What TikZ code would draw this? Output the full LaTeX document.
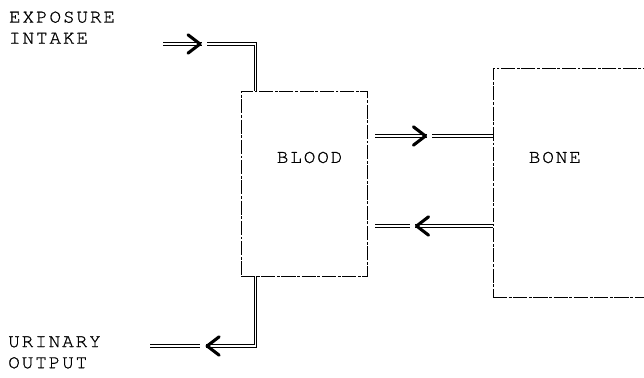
\documentclass[tikz,border=0pt]{standalone}
\usepackage{fontspec}
\newfontfamily\typefont[LetterSpace=10, FakeBold=0.9]{texgyrecursor-regular.otf}
\usepackage{tikz}
\usetikzlibrary{arrows.meta, decorations.markings, positioning}

\begin{document}
\begin{tikzpicture}[
    box/.style={draw, line width=0.6pt, dash pattern=on 10pt off 1.2pt on 2pt off 1.2pt, inner sep=0pt},
    tag/.style={font=\typefont\fontsize{13.7}{15}\selectfont, inner sep=0pt, align=left},
    flow/.style={draw, line width=2.2pt,
        postaction={draw=white, line width=1.2pt},
        postaction={decorate},
        decoration={markings, mark=at position #1 with {
            \fill[white] (0.04,-0.09) rectangle (0.17,0.09);
            \draw[black, line width=2.2pt, line join=round, line cap=round] (-0.3,0.23) -- (0,0) -- (-0.3,-0.23);
        }}}
]
% Rahmen
\useasboundingbox (0,0) rectangle (16.1,9.45);
\clip (0,0) rectangle (16.1,9.45);

% Kaesten
\node[box, minimum width=3.15cm, minimum height=4.625cm] (blood) at (7.6,4.8625) {};
\node[box, minimum width=4.5cm, minimum height=5.725cm] (bone) at (14.575,4.8875) {};

% Beschriftungen
\node[tag, right=0.9cm of blood.west, yshift=0.65cm] (bloodtag) {BLOOD};
\node[tag, right=0.9cm of bone.west, yshift=0.625cm] (bonetag) {BONE};
\node[tag, anchor=west] (intaketag) at (0.22,8.76) {EXPOSURE\\INTAKE};
\node[tag, anchor=west] (outputtag) at (0.2,0.64) {URINARY\\OUTPUT};

% Freie Enden
\coordinate (intake) at (4.075,8.35);
\coordinate (urine) at (3.75,0.8);
\path (blood.east) ++(0.2,1.1875) coordinate (upper);
\path (blood.east) ++(0.2,-1.0625) coordinate (lower);

% Fluesse
\draw[flow=0.925cm] (intake) -| ([xshift=0.375cm]blood.north west);
\draw[flow=2.95cm] ([xshift=0.375cm]blood.south west) |- (urine);
\draw[flow=1.25cm] (upper) -- (upper -| bone.west);
\draw[flow=1.9cm] (lower -| bone.west) -- (lower);

\end{tikzpicture}
\end{document}
